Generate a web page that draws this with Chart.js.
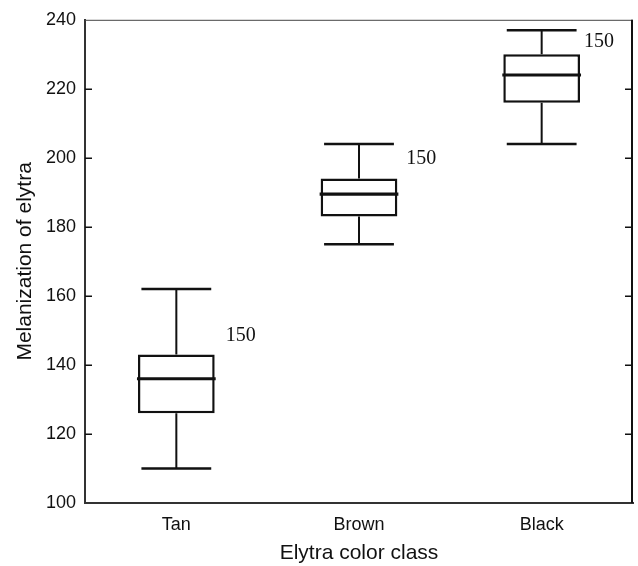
<!DOCTYPE html>
<html>
<head>
<meta charset="utf-8">
<script src="https://cdn.jsdelivr.net/npm/chart.js@4"></script>
<style>
  html, body { margin: 0; padding: 0; background: #fff; }
  #wrap { width: 638px; height: 566px; }
</style>
</head>
<body>
<div id="wrap"><canvas id="myChart" width="638" height="566"></canvas></div>
<script>
    // box plot summary
    const classes = ['Tan', 'Brown', 'Black'];
    const whiskerLow = [110, 175, 204];
    const q1 = [126, 183, 216];
    const median = [136, 189.5, 224];
    const q3 = [143, 194, 230];
    const whiskerHigh = [162, 204, 237];
    const nObs = [150, 150, 150];
    const yTicks = [100, 120, 140, 160, 180, 200, 220, 240];

    // where the "n" labels sit (px right of box, value on y)
    const nLabelPlace = [{dx: 11, v: 148.6}, {dx: 9, v: 199.6}, {dx: 4, v: 233.6}];

    const ink = '#111';

    const boxPlot = {
        id: 'boxPlot',
        afterDatasetsDraw(chart) {
            const ctx = chart.ctx;
            const y = chart.scales.y;
            const meta = chart.getDatasetMeta(0);
            ctx.save();
            ctx.strokeStyle = ink;
            ctx.lineCap = 'butt';
            meta.data.forEach(function (bar, i) {
                const cx = bar.x;
                const half = bar.width / 2;
                const cap = half * 0.91;
                ctx.lineWidth = 2;
                ctx.beginPath();
                ctx.moveTo(cx, y.getPixelForValue(q3[i]));
                ctx.lineTo(cx, y.getPixelForValue(whiskerHigh[i]));
                ctx.moveTo(cx, y.getPixelForValue(q1[i]));
                ctx.lineTo(cx, y.getPixelForValue(whiskerLow[i]));
                ctx.stroke();
                ctx.lineWidth = 2.5;
                ctx.beginPath();
                ctx.moveTo(cx - cap, y.getPixelForValue(whiskerHigh[i]));
                ctx.lineTo(cx + cap, y.getPixelForValue(whiskerHigh[i]));
                ctx.moveTo(cx - cap, y.getPixelForValue(whiskerLow[i]));
                ctx.lineTo(cx + cap, y.getPixelForValue(whiskerLow[i]));
                ctx.stroke();
                ctx.lineWidth = 3.2;
                ctx.beginPath();
                ctx.moveTo(cx - half - 1, y.getPixelForValue(median[i]));
                ctx.lineTo(cx + half + 1, y.getPixelForValue(median[i]));
                ctx.stroke();

                ctx.fillStyle = ink;
                ctx.font = '20px "Liberation Serif", "Times New Roman", serif';
                ctx.textAlign = 'left';
                ctx.textBaseline = 'middle';
                ctx.fillText(String(nObs[i]), cx + half + nLabelPlace[i].dx, y.getPixelForValue(nLabelPlace[i].v));
            });
            ctx.restore();
        },
        afterDraw(chart) {
            const ctx = chart.ctx;
            const a = chart.chartArea;
            const y = chart.scales.y;
            ctx.save();
            ctx.strokeStyle = '#444';
            ctx.lineWidth = 1;
            ctx.beginPath();
            ctx.moveTo(a.left, a.top + 0.5);
            ctx.lineTo(a.right, a.top + 0.5);
            ctx.stroke();
            ctx.strokeStyle = ink;
            ctx.lineWidth = 2;
            ctx.beginPath();
            ctx.moveTo(a.right - 1, a.top);
            ctx.lineTo(a.right - 1, a.bottom);
            ctx.stroke();
            // inward ticks on both sides
            ctx.lineWidth = 1.5;
            ctx.beginPath();
            yTicks.forEach(function (t) {
                if (t === 100 || t === 240) return;
                const py = Math.round(y.getPixelForValue(t)) + 0.25;
                ctx.moveTo(a.left, py);
                ctx.lineTo(a.left + 7, py);
                ctx.moveTo(a.right - 1, py);
                ctx.lineTo(a.right - 8, py);
            });
            ctx.stroke();
            ctx.restore();
        }
    };

    const ctx = document.getElementById('myChart').getContext('2d');

    const chart = new Chart(ctx, {
        type: 'bar',
        data: {
            labels: classes,
            datasets: [{
                data: q1.map(function (v, i) { return [v, q3[i]]; }),
                backgroundColor: '#fff',
                borderColor: ink,
                borderWidth: 2.5,
                borderSkipped: false,
                barPercentage: 0.42,
                categoryPercentage: 1
            }]
        },
        plugins: [boxPlot],
        options: {
            responsive: false,
            animation: false,
            layout: { padding: { top: 18, right: 5, left: 0, bottom: 0 } },
            plugins: {
                legend: { display: false },
                tooltip: { enabled: false }
            },
            scales: {
                x: {
                    grid: { display: false, drawTicks: false },
                    border: { display: true, color: '#333', width: 2 },
                    ticks: {
                        color: ink,
                        padding: 11,
                        font: { family: '"Liberation Sans", Arial, sans-serif', size: 18 }
                    },
                    title: {
                        display: true,
                        text: 'Elytra color class',
                        color: ink,
                        padding: { top: 0, bottom: 0 },
                        font: { family: '"Liberation Sans", Arial, sans-serif', size: 21 }
                    },
                    afterFit: function (scale) { scale.height = 63; }
                },
                y: {
                    min: 100,
                    max: 240,
                    afterBuildTicks: function (scale) {
                        scale.ticks = yTicks.map(function (v) { return { value: v }; });
                    },
                    grid: { display: false, drawTicks: false },
                    border: { display: true, color: '#333', width: 2 },
                    ticks: {
                        color: ink,
                        padding: 9,
                        font: { family: '"Liberation Sans", Arial, sans-serif', size: 18 }
                    },
                    title: {
                        display: true,
                        text: 'Melanization of elytra',
                        color: ink,
                        padding: { top: 13, bottom: 0 },
                        font: { family: '"Liberation Sans", Arial, sans-serif', size: 21 }
                    },
                    afterFit: function (scale) { scale.width = 85; }
                }
            }
        }
    });
</script>
</body>
</html>
